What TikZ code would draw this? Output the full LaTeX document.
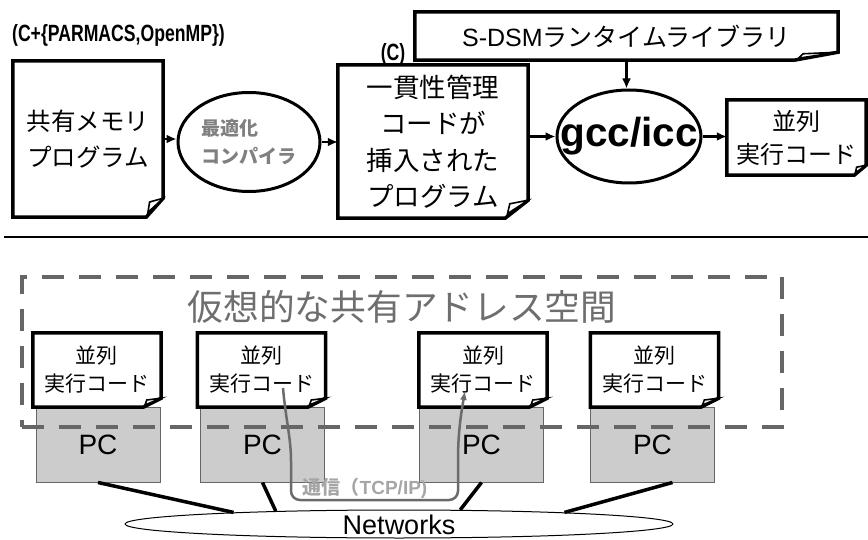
\documentclass[tikz,border=0pt]{standalone}
\usepackage{fontspec}
\setmainfont{Liberation Sans}
\newfontfamily\jp{Noto Sans CJK JP}
\usetikzlibrary{shapes.geometric,arrows.meta}

\newcommand{\fs}[2]{\fontsize{#1}{#2}\selectfont}

% page outline with a dog-eared lower right corner
\newcommand{\docframe}[3]{%
  \draw[docline] (#1.north west) -- (#1.north east)
    -- ([yshift=#3]#1.south east) -- ([xshift=-#2]#1.south east)
    -- (#1.south west) -- cycle;
  \draw[docline, line width=1.6pt, fill=white] ([yshift=#3]#1.south east)
    -- ([xshift=-0.8*#2, yshift=0.8*#3]#1.south east)
    -- ([xshift=-0.9*#2, yshift=0.25*#3]#1.south east) -- cycle;
}

\tikzset{
  doc/.style={rectangle, inner sep=0pt, align=center},
  docline/.style={line width=3.5pt, line join=miter},
  prog/.style={ellipse, draw, line width=3pt, fill=white, inner sep=0pt, align=left},
  flow/.style={-{Latex[length=10pt,width=9pt]}, line width=2.5pt},
  pcbox/.style={rectangle, draw=black!60, fill=black!20, line width=1pt,
    minimum width=124pt, minimum height=75pt, inner sep=0pt, font=\fs{28}{30}},
  codebox/.style={doc, minimum width=128pt, minimum height=74pt, font=\jp\fs{21}{28}},
  netlink/.style={line width=3.5pt},
  comm/.style={draw=black!58, line width=2.5pt, rounded corners=9pt,
    -{Latex[length=9pt,width=7pt]}},
  heading/.style={font=\bfseries\fs{23.5}{26}, xscale=0.75, inner sep=0pt},
}

\begin{document}
\begin{tikzpicture}[x=1pt, y=-1pt]
\useasboundingbox (0,0) rectangle (868,540);

%% compile flow
\node[heading, anchor=west] (lang) at (12,35) {(C+\{PARMACS,OpenMP\})};
\node[heading] (langc) at (393,54) {(C)};

\node[doc, minimum width=150pt, minimum height=156pt, font=\jp\fs{24.5}{36}] (src) at (88,139) {共有メモリ\\プログラム};
\node[prog, minimum width=142pt, minimum height=99pt, text=black!50,
  font=\jp\bfseries\fs{19}{28}] (opt) at (249,142) {最適化\\コンパイラ};
\node[doc, minimum width=190pt, minimum height=153pt, font=\jp\fs{26.5}{36.5}] (mid) at (433,141.5) {一貫性管理\\コードが\\挿入された\\プログラム};
\node[doc, minimum width=423pt, minimum height=48pt, font=\fs{25}{28}] (lib) at (626.5,36) {S-DSM{\jp ランタイムライブラリ}};
\node[prog, minimum width=144pt, minimum height=93pt, inner xsep=-20pt,
  font=\bfseries\fs{40.5}{42}] (gcc) at (629,136.5) {gcc/icc};
\node[doc, minimum width=139pt, minimum height=75pt, font=\jp\fs{24}{33}] (exe) at (796.5,137.5) {並列\\実行コード};

\docframe{src}{17pt}{19pt}
\docframe{mid}{23pt}{18pt}
\docframe{lib}{44pt}{8pt}
\docframe{exe}{12pt}{10pt}

\draw[flow] (src.east) -- (src.east -| opt.west);
\draw[flow] (opt.east) -- (opt.east -| mid.west);
\draw[flow] (lib.south) -- (lib.south |- gcc.north);
\draw[flow] (mid.east |- gcc) -- (gcc.west);
\draw[flow] (gcc.east) -- (gcc.east -| exe.west);

\draw[line width=1.5pt] (4,237) -- (868,237);

%% runtime view
\foreach \i/\x in {1/98, 2/262.5, 3/481.5, 4/652.5}
  \node[pcbox] (pc\i) at (\x,444.5) {PC};
\foreach \i/\x in {1/97, 2/261.5, 3/483, 4/654.5} {
  \node[codebox] (code\i) at (\x,370) {並列\\実行コード};
  \docframe{code\i}{18pt}{9pt}
}

\node[draw=black!60, line width=4.5pt, dash pattern=on 22pt off 15pt,
  minimum width=760pt, minimum height=150pt, inner sep=0pt] (space) at (402,352) {};
\node[text=black!57, font=\jp\fs{35.7}{38}] (spacename) at (402,307) {仮想的な共有アドレス空間};

\node[ellipse, draw, line width=1pt, minimum width=548pt, minimum height=28pt, inner sep=0pt] (net) at (399,524) {};
\node[font=\fs{27}{29}] (netname) at (399,525) {Networks};

\draw[netlink] (pc1.south) -- (net.176.6);
\draw[netlink] (pc2.south) -- (net.174.1);
\draw[netlink] (pc3.south) -- (net.13.7);
\draw[netlink] ([xshift=20pt]pc4.south) -- (net.4.1);

% message between two processes
\coordinate (send) at ([xshift=21.5pt, yshift=-18pt]code2.center);
\coordinate (recv) at ([xshift=-18pt, yshift=-21pt]code3.center);
\draw[comm] (send) to[out=-85, in=90] (291,470) -- (291,500) -- (458,500) -- (458,470) to[out=90, in=-100] (recv);
\node[text=black!35, font=\jp\bfseries\fs{19}{22}] (commname) at (365,488) {通信（{\rmfamily TCP/IP)}};

\end{tikzpicture}
\end{document}
